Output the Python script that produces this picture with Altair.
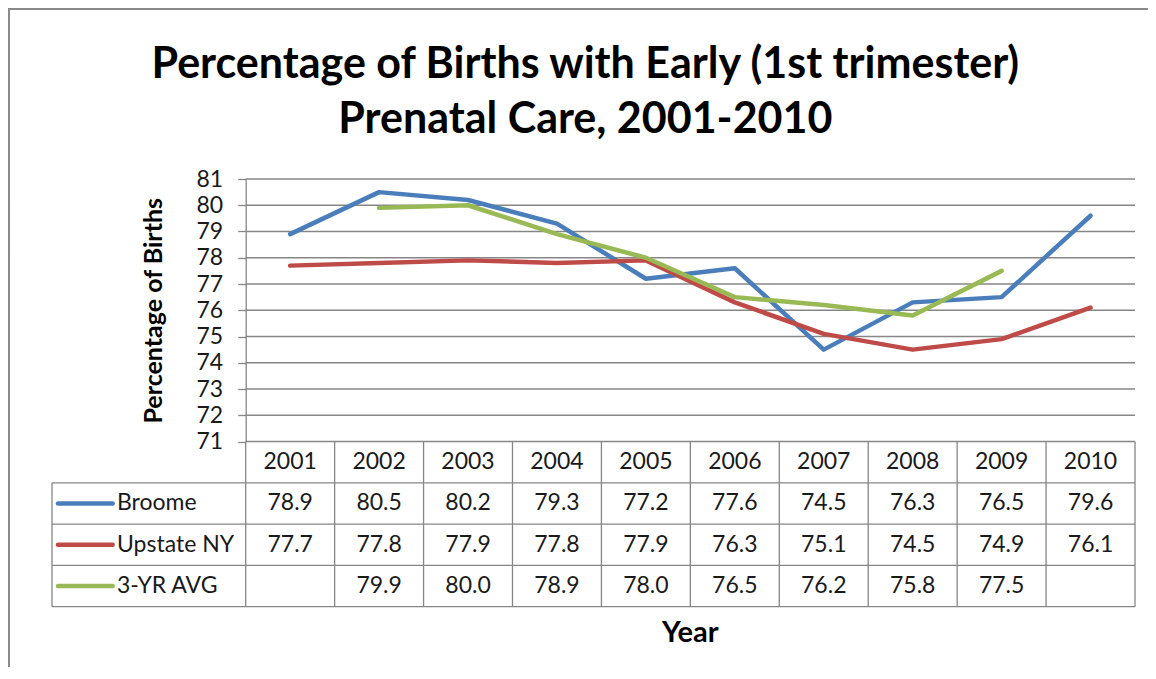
import altair as alt
import pandas as pd

# ---------------- data ----------------
years = ["2001", "2002", "2003", "2004", "2005", "2006", "2007", "2008", "2009", "2010"]
broome = [78.9, 80.5, 80.2, 79.3, 77.2, 77.6, 74.5, 76.3, 76.5, 79.6]
upstate = [77.7, 77.8, 77.9, 77.8, 77.9, 76.3, 75.1, 74.5, 74.9, 76.1]
avg3 = [None, 79.9, 80.0, 78.9, 78.0, 76.5, 76.2, 75.8, 77.5, None]
series_names = ["Broome", "Upstate NY", "3-YR AVG"]
series_colors = ["#4A7EBB", "#BE4B48", "#98B954"]
y_ticks = list(range(71, 82))
title_lines = ["Percentage of Births with Early (1st trimester)", "Prenatal Care, 2001-2010"]

# ---------------- layout constants ----------------
FONT = "Lato"
COL_PX = 88.93                 # width of one year column
W = COL_PX * len(years)        # plot area width
PLOT_H = 262.5                 # plot area height (71..81)
PX_PER_UNIT = PLOT_H / 10
ROW_PX = 41.3                  # data-table row height
LABEL_COLS = 193.7 / COL_PX    # label column width, in column units
ROW_UNITS = ROW_PX / PX_PER_UNIT
GRID = "#868686"
TXT = "#1a1a1a"


def row_y(r):
    """table row position (0 = top of table) expressed on the value axis"""
    return 71 - r * ROW_UNITS


series_vals = [broome, upstate, avg3]

rows = []
for name, vals in zip(series_names, series_vals):
    for i, v in enumerate(vals):
        if v is not None:
            rows.append({"series": name, "pos": i + 0.5, "value": v})
lines_df = pd.DataFrame(rows)

grid_df = pd.DataFrame({"value": y_ticks, "x0": 0, "x1": len(years)})

x_scale = alt.Scale(domain=[0, len(years)], nice=False, zero=False)
y_scale = alt.Scale(domain=[71, 81], nice=False, zero=False)
color_scale = alt.Scale(domain=series_names, range=series_colors)

# ---------- line plot part ----------
grid = alt.Chart(grid_df).mark_rule(stroke=GRID, strokeWidth=1.3).encode(
    x=alt.X("x0:Q", scale=x_scale, axis=None),
    x2="x1:Q",
    y=alt.Y(
        "value:Q",
        scale=y_scale,
        axis=alt.Axis(
            orient="left", values=y_ticks, tickCount=len(y_ticks), grid=False, labelOverlap=False,
            domainColor=GRID, domainWidth=1.3,
            tickColor=GRID, tickWidth=1.3, tickSize=8,
            labelFont=FONT, labelFontSize=23, labelColor=TXT, labelPadding=15,
            title="Percentage of Births", titleFont=FONT, titleFontSize=25,
            titleFontWeight="bold", titleColor="#000", titlePadding=30,
        ),
    ),
)

lines = alt.Chart(lines_df).mark_line(strokeWidth=4.5, strokeCap="round", strokeJoin="round").encode(
    x=alt.X("pos:Q", scale=x_scale, axis=None),
    y=alt.Y("value:Q", scale=y_scale),
    color=alt.Color("series:N", scale=color_scale, legend=None),
)

# ---------- data table part ----------
hrule_df = pd.DataFrame({"y": [row_y(r) for r in [1, 2, 3, 4]], "x0": -LABEL_COLS, "x1": len(years)})
vrule_df = pd.DataFrame(
    [{"x": -LABEL_COLS, "y0": row_y(1), "y1": row_y(4)}]
    + [{"x": i, "y0": row_y(0), "y1": row_y(4)} for i in range(len(years) + 1)]
)

cells = [{"pos": i + 0.5, "y": row_y(0.5), "text": yr} for i, yr in enumerate(years)]
for k, vals in enumerate(series_vals):
    for i, v in enumerate(vals):
        if v is not None:
            cells.append({"pos": i + 0.5, "y": row_y(k + 1.5), "text": f"{v:.1f}"})
cells_df = pd.DataFrame(cells)

legend_df = pd.DataFrame({
    "series": series_names,
    "y": [row_y(1.5), row_y(2.5), row_y(3.5)],
    "s0": -LABEL_COLS + 6 / COL_PX,
    "s1": -LABEL_COLS + 60.7 / COL_PX,
    "lx": -LABEL_COLS + 65 / COL_PX,
})

year_title_df = pd.DataFrame({"pos": [len(years) / 2], "y": [row_y(4.63)], "text": ["Year"]})

hrules = alt.Chart(hrule_df).mark_rule(stroke=GRID, strokeWidth=1.3).encode(
    x=alt.X("x0:Q", scale=x_scale, axis=None), x2="x1:Q",
    y=alt.Y("y:Q", scale=y_scale),
)
vrules = alt.Chart(vrule_df).mark_rule(stroke=GRID, strokeWidth=1.3).encode(
    x=alt.X("x:Q", scale=x_scale, axis=None),
    y=alt.Y("y0:Q", scale=y_scale), y2="y1:Q",
)
cell_text = alt.Chart(cells_df).mark_text(font=FONT, fontSize=23, color=TXT, align="center", baseline="middle").encode(
    x=alt.X("pos:Q", scale=x_scale, axis=None),
    y=alt.Y("y:Q", scale=y_scale),
    text="text:N",
)
legend_sym = alt.Chart(legend_df).mark_rule(strokeWidth=4.5, strokeCap="round").encode(
    x=alt.X("s0:Q", scale=x_scale, axis=None), x2="s1:Q",
    y=alt.Y("y:Q", scale=y_scale),
    color=alt.Color("series:N", scale=color_scale, legend=None),
)
legend_txt = alt.Chart(legend_df).mark_text(font=FONT, fontSize=23, color=TXT, align="left", baseline="middle").encode(
    x=alt.X("lx:Q", scale=x_scale, axis=None),
    y=alt.Y("y:Q", scale=y_scale),
    text="series:N",
)
year_title = alt.Chart(year_title_df).mark_text(font=FONT, fontSize=29, fontWeight="bold", color="#000", align="center", baseline="middle").encode(
    x=alt.X("pos:Q", scale=x_scale, axis=None),
    y=alt.Y("y:Q", scale=y_scale),
    text="text:N",
)

# ---------- outer chart border ----------
frame = alt.Chart(pd.DataFrame({"k": [0]})).mark_rect(filled=False, stroke="#8a8a8a", strokeWidth=2).encode(
    x=alt.value(-236.7), x2=alt.value(1000), y=alt.value(-170), y2=alt.value(700)
)

chart = alt.layer(
    frame, grid, hrules, vrules, cell_text, legend_sym, legend_txt, year_title, lines
).properties(
    width=W, height=PLOT_H,
    title=alt.TitleParams(
        text=title_lines, font=FONT, fontSize=43, fontWeight="bold", color="#000",
        anchor="middle", offset=-134, dx=-105, lineHeight=55,
    ),
    autosize=alt.AutoSizeParams(type="none"),
    padding={"left": 237.7, "top": 171, "right": 13, "bottom": 225},
).configure_view(stroke=None)

chart.save("out.html", embed_options={"renderer": "svg", "actions": False})
